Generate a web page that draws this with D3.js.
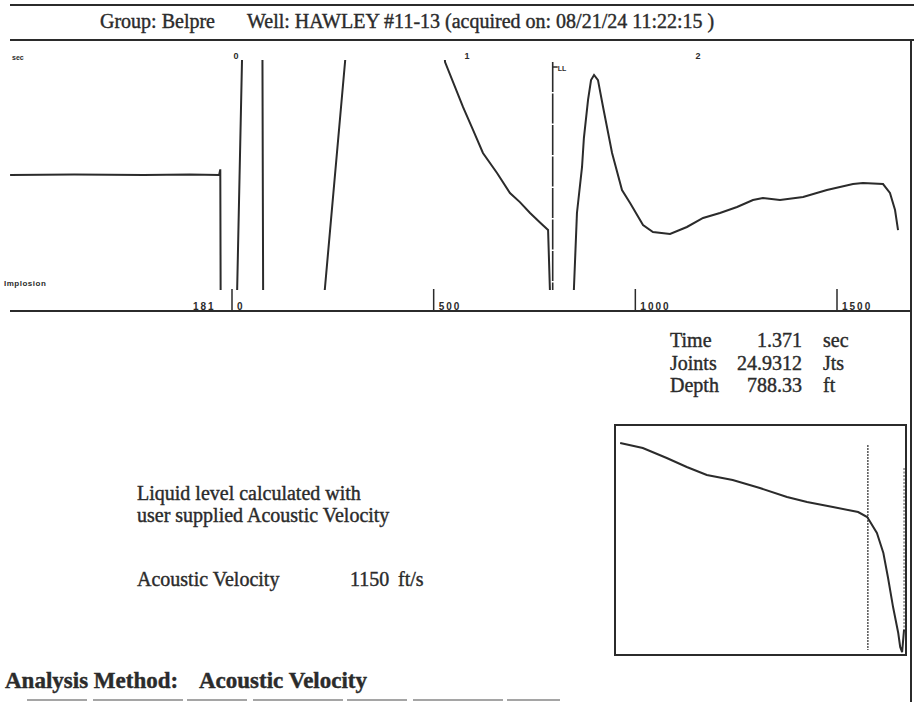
<!DOCTYPE html>
<html>
    <head>
        <meta charset="utf-8">
        <title>Acoustic Velocity</title>
        <style>
body {
    margin: 0;
    background-color: white;
}

svg {
    display: block;
    background-color: white;
}

.txt {
    font-family: 'Liberation Serif', 'Times New Roman', serif;
    font-size: 20px;
    fill: #2b2b2b;
    stroke: #2b2b2b;
    stroke-width: 0.4px;
}

.tick-lbl {
    font-family: 'Liberation Sans', Arial, sans-serif;
    font-weight: bold;
    font-size: 10px;
    fill: #2b2b2b;
}

.frame {
    stroke: #2b2b2b;
    stroke-width: 2;
    fill: none;
}

.trace {
    stroke: #2b2b2b;
    stroke-width: 2;
    fill: none;
}
</style>
        <script src="https://cdn.jsdelivr.net/npm/d3@7/dist/d3.min.js"></script>
    </head>
    <body>
        <script>
// header / text values
var groupText = "Group: Belpre";
var wellText = "Well: HAWLEY #11-13 (acquired on: 08/21/24 11:22:15 )";
var resultNames = ["Time", "Joints", "Depth"];
var resultValues = ["1.371", "24.9312", "788.33"];
var resultUnits = ["sec", "Jts", "ft"];
var noteLines = ["Liquid level calculated with", "user supplied Acoustic Velocity"];
var velocityValue = "1150";
var velocityUnit = "ft/s";
var methodName = "Acoustic Velocity";

// axes
var timeTicks = [0, 1, 2];
var depthTicks = [0, 500, 1000, 1500];
var liquidLevelTime = 1.371;

// acoustic trace: [time sec, amplitude] (values beyond +-1 are off scale)
var trace = [
    [-0.978, 0.00], [-0.70, 0.005], [-0.40, 0.0], [-0.20, 0.004], [-0.073, 0.0],
    [-0.068, 0.05], [-0.066, -1.4],
    [0.001, -1.4], [0.030, 1.4],
    [0.114, 1.4], [0.118, -1.4],
    [0.368, -1.4], [0.385, -1.0], [0.472, 1.0], [0.489, 1.4],
    [0.89, 1.4], [0.905, 1.0], [0.983, 0.60], [1.026, 0.40], [1.069, 0.195],
    [1.130, 0.018], [1.186, -0.16], [1.229, -0.24], [1.273, -0.336],
    [1.316, -0.42], [1.351, -0.487], [1.359, -1.02], [1.362, -1.4],
    [1.455, -1.4], [1.463, -1.0], [1.476, -0.336], [1.498, 0.071], [1.506, 0.327],
    [1.524, 0.664], [1.537, 0.84], [1.550, 0.885], [1.567, 0.84], [1.589, 0.602],
    [1.628, 0.195], [1.671, -0.133], [1.706, -0.248], [1.762, -0.442],
    [1.805, -0.504], [1.879, -0.522], [1.952, -0.46], [2.022, -0.38],
    [2.095, -0.336], [2.169, -0.283], [2.238, -0.221], [2.281, -0.204],
    [2.355, -0.221], [2.455, -0.195], [2.558, -0.133], [2.671, -0.080],
    [2.714, -0.071], [2.801, -0.080], [2.831, -0.159], [2.853, -0.310],
    [2.866, -0.487]
];

// zoomed view around the liquid level
var insetTrace = [
    [0.988, 0.843], [1.023, 0.80], [1.060, 0.713], [1.091, 0.635], [1.122, 0.565],
    [1.162, 0.522], [1.204, 0.452], [1.246, 0.374], [1.277, 0.330], [1.317, 0.287],
    [1.356, 0.243], [1.370, 0.20], [1.385, 0.061], [1.395, -0.113], [1.402, -0.322],
    [1.410, -0.583], [1.418, -0.809], [1.421, -0.930], [1.424, -0.975], [1.427, -0.78]
];

var width = 914,
    height = 702;

var svg = d3.select('body')
    .append('svg')
    .attr('width', width)
    .attr('height', height);

// ---- header ----
svg.append('line').attr('class', 'frame')
    .attr('x1', 10).attr('x2', 914).attr('y1', 5).attr('y2', 5);
svg.append('line').attr('class', 'frame')
    .attr('x1', 10).attr('x2', 914).attr('y1', 40).attr('y2', 40);

svg.append('text').attr('class', 'txt')
    .attr('x', 100).attr('y', 28)
    .text(groupText);
svg.append('text').attr('class', 'txt')
    .attr('x', 247).attr('y', 28)
    .text(wellText);

// ---- main trace ----
var x = d3.scaleLinear().domain([0, 1]).range([236, 467]);
var y = d3.scaleLinear().domain([-1, 1]).range([288, 62]);
var depth = d3.scaleLinear().domain([0, 1500]).range([232, 837]);

svg.append('line').attr('class', 'frame')
    .attr('x1', 911).attr('x2', 911).attr('y1', 40).attr('y2', height);
svg.append('line').attr('class', 'frame')
    .attr('x1', 10).attr('x2', 911).attr('y1', 311).attr('y2', 311);

svg.append('defs').append('clipPath')
    .attr('id', 'plotClip')
    .append('rect')
    .attr('x', 8).attr('y', 60)
    .attr('width', 902).attr('height', 230);

var line = d3.line()
    .x(function (d) { return x(d[0]); })
    .y(function (d) { return y(d[1]); });

svg.append('path')
    .attr('class', 'trace')
    .attr('clip-path', 'url(#plotClip)')
    .attr('d', line(trace));

// liquid level marker
svg.append('line')
    .attr('x1', x(liquidLevelTime)).attr('x2', x(liquidLevelTime))
    .attr('y1', y(1)).attr('y2', y(-1) + 2)
    .style('stroke', '#2b2b2b')
    .style('stroke-width', 1.6)
    .style('stroke-dasharray', '30,1.5');
svg.append('line')
    .attr('x1', x(liquidLevelTime)).attr('x2', x(liquidLevelTime) + 5)
    .attr('y1', y(1) + 5).attr('y2', y(1) + 5)
    .style('stroke', '#2b2b2b')
    .style('stroke-width', 1.5);
svg.append('text').attr('class', 'tick-lbl')
    .attr('x', x(liquidLevelTime) + 5).attr('y', y(1) + 9)
    .style('font-size', '7px')
    .text('LL');

// time labels along the top
svg.append('text').attr('class', 'tick-lbl')
    .attr('x', 12).attr('y', 60)
    .style('font-size', '7px')
    .text('sec');
svg.selectAll('.time-lbl')
    .data(timeTicks)
    .enter()
    .append('text')
    .attr('class', 'tick-lbl time-lbl')
    .attr('x', function (d) { return x(d); })
    .attr('y', 59)
    .attr('text-anchor', 'middle')
    .style('font-size', '9px')
    .text(function (d) { return d; });

// depth ticks along the bottom
svg.selectAll('.depth-tick')
    .data(depthTicks)
    .enter()
    .append('line')
    .attr('class', 'depth-tick')
    .attr('x1', function (d) { return depth(d); })
    .attr('x2', function (d) { return depth(d); })
    .attr('y1', 289).attr('y2', 311)
    .style('stroke', '#2b2b2b')
    .style('stroke-width', 1.5);
svg.selectAll('.depth-lbl')
    .data(depthTicks)
    .enter()
    .append('text')
    .attr('class', 'tick-lbl depth-lbl')
    .attr('x', function (d) { return depth(d) + 5; })
    .attr('y', 310)
    .style('letter-spacing', '2px')
    .text(function (d) { return d; });
svg.append('text').attr('class', 'tick-lbl')
    .attr('x', 193).attr('y', 310)
    .style('letter-spacing', '2px')
    .text('181');
svg.append('text').attr('class', 'tick-lbl')
    .attr('x', 4).attr('y', 286)
    .style('font-size', '8px')
    .style('letter-spacing', '0.5px')
    .text('Implosion');

// ---- results ----
resultNames.forEach(function (name, i) {
    var by = 347 + i * 22.5;
    svg.append('text').attr('class', 'txt')
        .attr('x', 670).attr('y', by)
        .text(name);
    svg.append('text').attr('class', 'txt')
        .attr('x', 802).attr('y', by)
        .attr('text-anchor', 'end')
        .text(resultValues[i]);
    svg.append('text').attr('class', 'txt')
        .attr('x', 823).attr('y', by)
        .text(resultUnits[i]);
});

noteLines.forEach(function (t, i) {
    svg.append('text').attr('class', 'txt')
        .attr('x', 137).attr('y', 500 + i * 22)
        .text(t);
});
svg.append('text').attr('class', 'txt')
    .attr('x', 137).attr('y', 586)
    .text('Acoustic Velocity');
svg.append('text').attr('class', 'txt')
    .attr('x', 350).attr('y', 586)
    .text(velocityValue);
svg.append('text').attr('class', 'txt')
    .attr('x', 398).attr('y', 586)
    .text(velocityUnit);

// ---- inset ----
var ix = d3.scaleLinear().domain([0.98, 1.43]).range([615, 906]);
var iy = d3.scaleLinear().domain([-1, 1]).range([655, 425]);

svg.append('rect').attr('class', 'frame')
    .attr('x', 615).attr('y', 425)
    .attr('width', 291).attr('height', 230);

svg.append('line')
    .attr('x1', ix(liquidLevelTime)).attr('x2', ix(liquidLevelTime))
    .attr('y1', 445).attr('y2', 650)
    .style('stroke', '#555')
    .style('stroke-width', 1.5)
    .style('stroke-dasharray', '2,1');
svg.append('line')
    .attr('x1', ix(1.427)).attr('x2', ix(1.427))
    .attr('y1', 468).attr('y2', iy(-0.78))
    .style('stroke', '#666')
    .style('stroke-width', 1.2)
    .style('stroke-dasharray', '2,1.5');

var insetLine = d3.line()
    .x(function (d) { return ix(d[0]); })
    .y(function (d) { return iy(d[1]); });

svg.append('path')
    .attr('class', 'trace')
    .attr('d', insetLine(insetTrace));

// ---- footer ----
svg.append('text').attr('class', 'txt')
    .attr('x', 5).attr('y', 688)
    .style('font-weight', 'bold')
    .style('font-size', '23px')
    .text('Analysis Method:');
svg.append('text').attr('class', 'txt')
    .attr('x', 199).attr('y', 688)
    .style('font-weight', 'bold')
    .style('font-size', '23px')
    .text(methodName);
svg.append('line')
    .attr('x1', 27).attr('x2', 560).attr('y1', 700).attr('y2', 700)
    .style('stroke', '#888')
    .style('stroke-width', 1.5)
    .style('stroke-dasharray', '60,6,90,4');

        </script>
    </body>
</html>
